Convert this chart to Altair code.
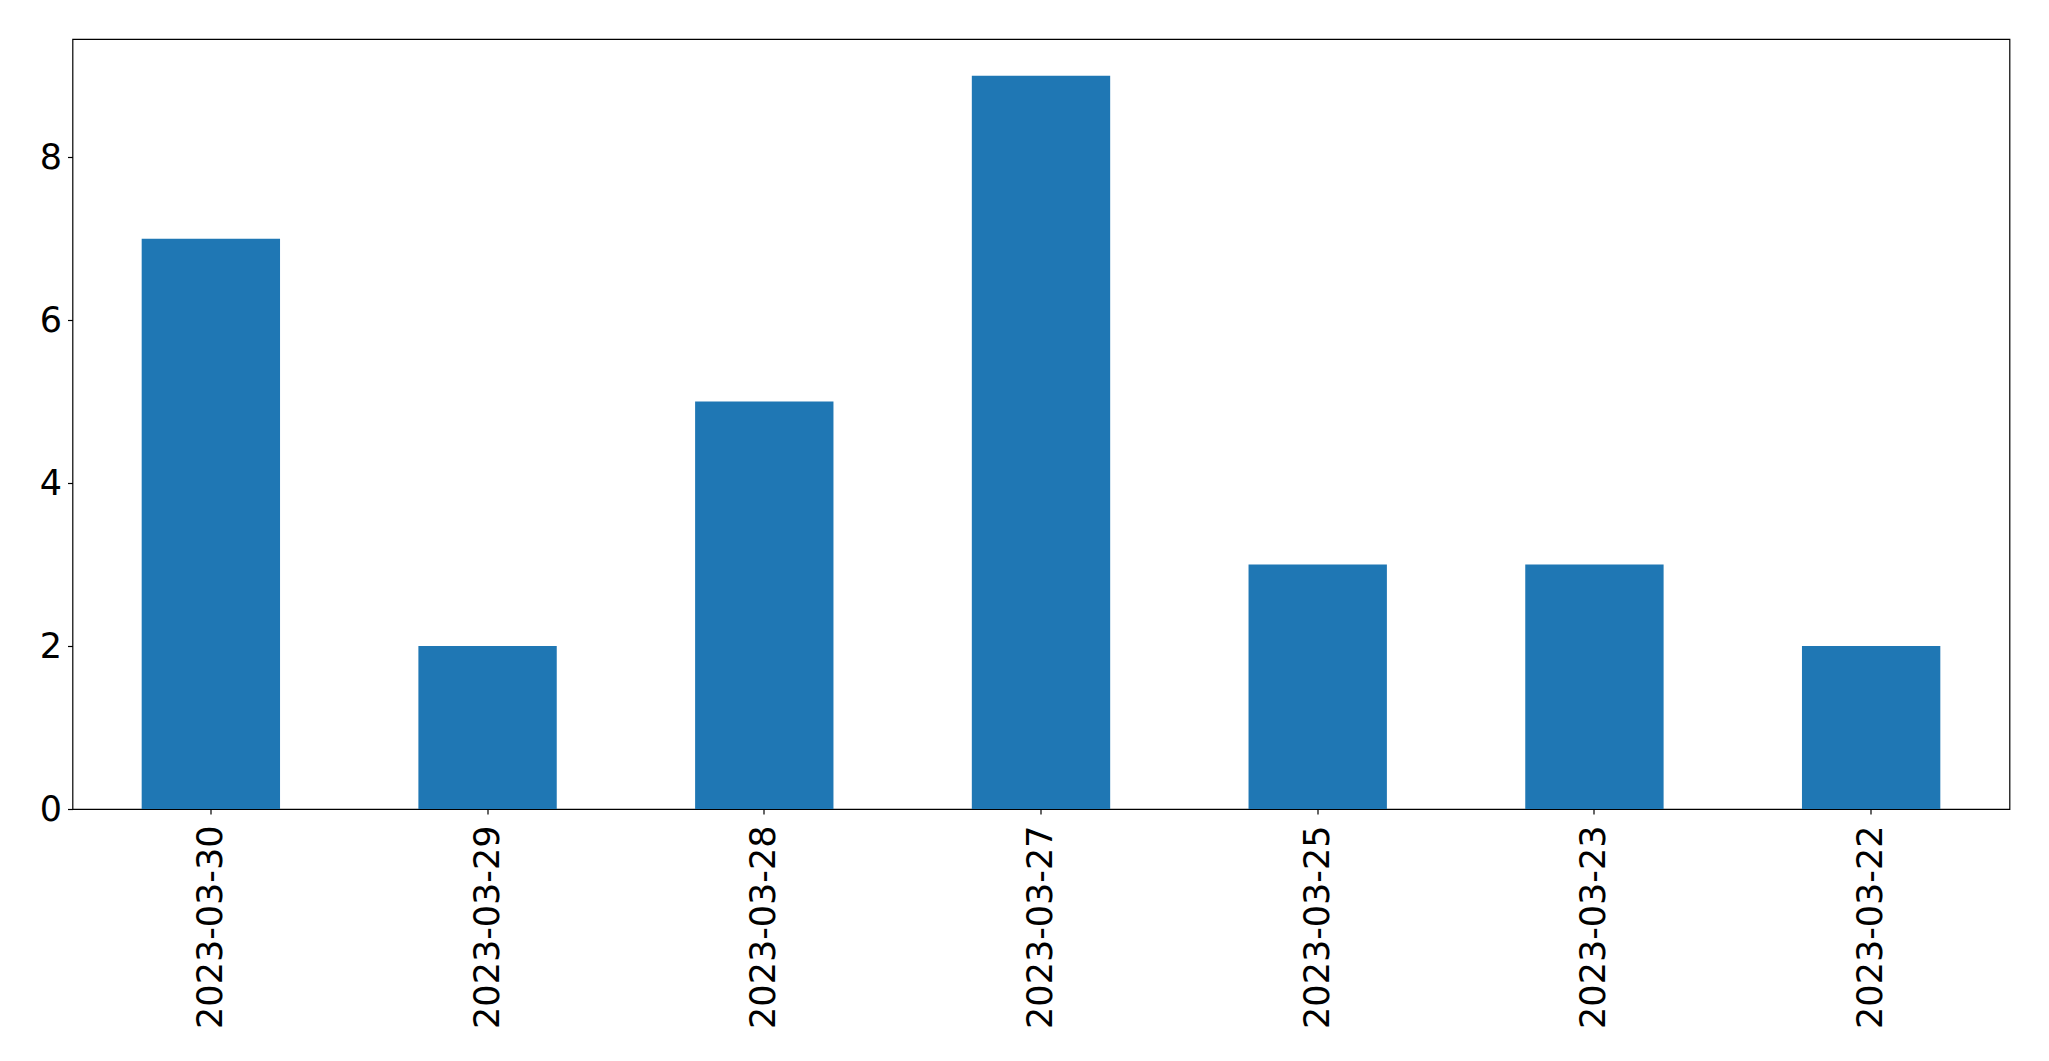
import altair as alt
import pandas as pd

dates = ["2023-03-30", "2023-03-29", "2023-03-28", "2023-03-27", "2023-03-25", "2023-03-23", "2023-03-22"]
counts = [7, 2, 5, 9, 3, 3, 2]
y_ticks = [0, 2, 4, 6, 8]

df = pd.DataFrame({"date": dates, "count": counts})

chart = alt.Chart(df).mark_bar(color="#1f77b4").encode(
    x=alt.X("date:N", sort=dates, title=None,
            scale=alt.Scale(paddingInner=0.5, paddingOuter=0.25),
            axis=alt.Axis(labelAngle=270, labelFontSize=35, tickSize=5,
                          labelPadding=11, domain=False, tickColor="black",
                          labelColor="black", labelFont="DejaVu Sans",
                          labelLimit=0)),
    y=alt.Y("count:Q", title=None,
            scale=alt.Scale(domain=[0, 9.45], nice=False, zero=True),
            axis=alt.Axis(values=y_ticks, labelFontSize=35, tickSize=5,
                          labelPadding=6, domain=False, grid=False,
                          tickColor="black", labelColor="black",
                          labelFont="DejaVu Sans")),
).properties(
    width=1937, height=770,
    autosize=alt.AutoSizeParams(type="none"),
    padding={"left": 64.5, "top": 31, "right": 30, "bottom": 240},
).configure_view(
    stroke="black", strokeWidth=1.2
).configure_axis(
    tickWidth=1.2
)

chart.save("out.html", embed_options={"renderer": "svg", "actions": False})
